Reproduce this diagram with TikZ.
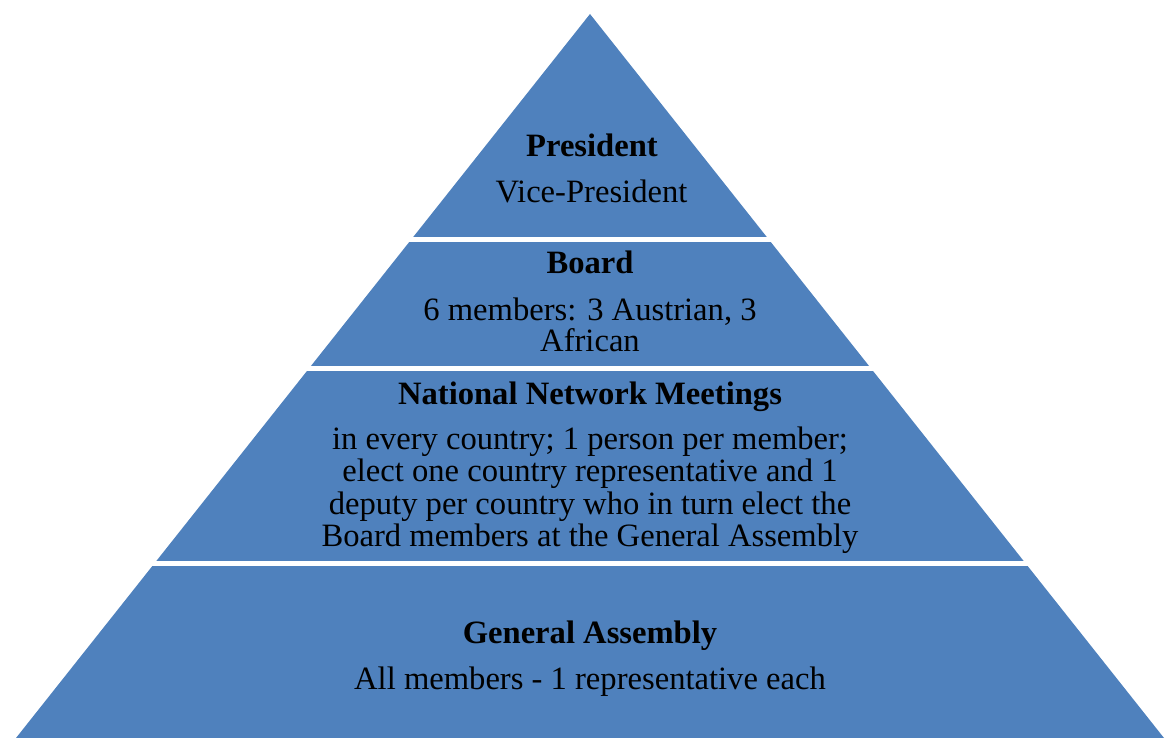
\documentclass[tikz,border=0pt]{standalone}
\usepackage{fontspec}
\setmainfont{Liberation Serif}
\definecolor{pyrblue}{HTML}{4F81BD}
\tikzset{
  layer/.style={fill=pyrblue, draw=none},
  gapline/.style={draw=white, line width=5pt},
  title/.style={anchor=base, font=\fontsize{32.6}{32}\selectfont\bfseries, inner sep=0pt},
  body/.style={anchor=base, font=\fontsize{32.6}{32}\selectfont, inner sep=0pt}
}
\begin{document}
\begin{tikzpicture}[x=1pt,y=-1pt]
\useasboundingbox (0,0) rectangle (1165,738);
% pyramid
\coordinate (apex) at (590,14);
\coordinate (bl) at (16,738);
\coordinate (br) at (1164,738);
\fill[layer] (apex) -- (bl) -- (br) -- cycle;
% white gaps between layers
\draw[gapline] (0,240) -- (1165,240);
\draw[gapline] (0,368.2) -- (1165,368.2);
\draw[gapline] (0,563.5) -- (1165,563.5);
% texts
\node[title] (pres) at (592,157) {President};
\node[body] (vice) at (591.5,202.5) {Vice-President};
\node[title] (board) at (590,273.3) {Board};
\node[body] (boardtxt1) at (590,320) {6 members: 3 Austrian, 3};
\node[body] (boardtxt2) at (590,351.5) {African};
\node[title] (nnm) at (590,404) {National Network Meetings};
\node[body] (nnmtxt1) at (590,449.5) {in every country; 1 person per member;};
\node[body] (nnmtxt2) at (590,481.7) {elect one country representative and 1};
\node[body] (nnmtxt3) at (590,514) {deputy per country who in turn elect the};
\node[body] (nnmtxt4) at (590,546) {Board members at the General Assembly};
\node[title] (ga) at (590,643.5) {General Assembly};
\node[body] (gatxt) at (590,689) {All members - 1 representative each};
\end{tikzpicture}
\end{document}
